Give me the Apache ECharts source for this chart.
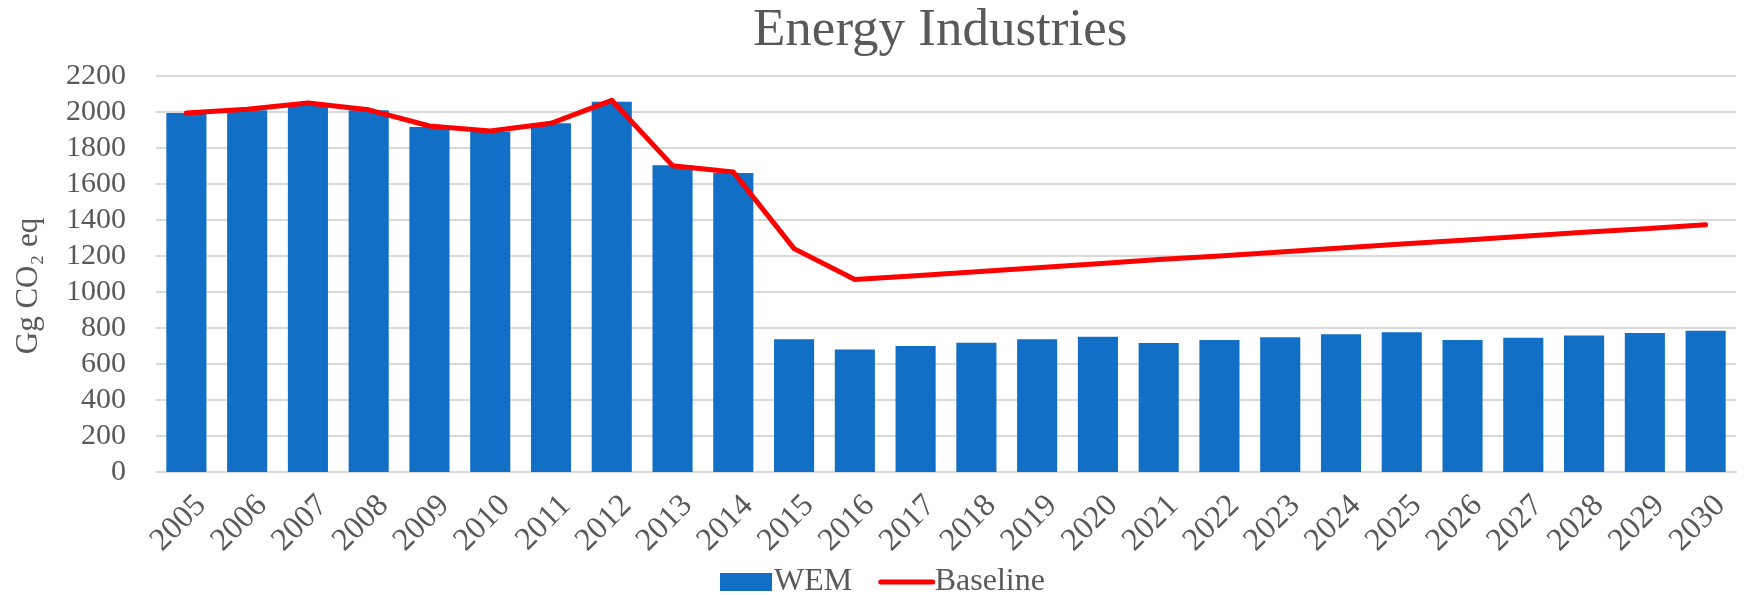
<!DOCTYPE html>
<html>
<head>
<meta charset="utf-8">
<script src="https://cdn.jsdelivr.net/npm/echarts@6/dist/echarts.min.js"></script>
<style>
html,body{margin:0;padding:0;background:#fff;}
#chart{width:1751px;height:595px;}
</style>
</head>
<body>
<div id="chart"></div>
<script>
const years = ['2005','2006','2007','2008','2009','2010','2011','2012','2013','2014','2015','2016','2017','2018','2019','2020','2021','2022','2023','2024','2025','2026','2027','2028','2029','2030'];
const wem = [1995,2010,2040,2010,1917,1891,1937,2057,1704,1661,737,681,700,718,737,752,717,733,748,765,776,733,746,759,772,785];
const baseline = [1995,2015,2050,2012,1922,1894,1937,2065,1702,1667,1241,1070,1090,1112,1135,1157,1180,1200,1222,1245,1266,1288,1310,1332,1352,1374];
const yTicks = {min:0, max:2200, interval:200};
const titleText = 'Energy Industries';
const yName = 'Gg CO₂ eq';

const FONT = '"Liberation Serif", "DejaVu Serif", serif';
const TXT = '#595959';
const chart = echarts.init(document.getElementById('chart'));
chart.setOption({
  animation:false,
  backgroundColor:'#fff',
  title:{text:titleText,left:748,top:0,textStyle:{fontFamily:FONT,fontSize:53,fontWeight:'normal',color:TXT}},
  grid:{left:156,right:15,top:76,bottom:123,containLabel:false},
  legend:{top:561,left:715,itemWidth:52,itemHeight:18,itemGap:26,
    textStyle:{fontFamily:FONT,fontSize:32,color:TXT,padding:[0,0,0,-3]},
    data:[
      {name:'WEM',icon:'rect'},
      {name:'Baseline',itemStyle:{color:'rgba(0,0,0,0)',borderWidth:0,opacity:0},lineStyle:{color:'#FF0000',width:5}}
    ]},
  xAxis:{type:'category',data:years,
    axisLine:{lineStyle:{color:'#D9D9D9',width:2}},
    axisTick:{show:false},
    axisLabel:{rotate:45,margin:14,verticalAlign:'top',lineHeight:42,fontFamily:FONT,fontSize:32,color:TXT,interval:0}},
  yAxis:{type:'value',min:yTicks.min,max:yTicks.max,interval:yTicks.interval,
    name:yName,nameLocation:'middle',nameGap:112,nameRotate:90,
    nameTextStyle:{fontFamily:FONT,fontSize:31,color:TXT,padding:[0,24,0,0]},
    axisLine:{show:false},axisTick:{show:false},
    axisLabel:{margin:30,fontFamily:FONT,fontSize:30,color:TXT,formatter:function(v){return String(v);}},
    splitLine:{lineStyle:{color:'#D9D9D9',width:2}}},
  series:[
    {name:'WEM',type:'bar',data:wem,barWidth:'66%',itemStyle:{color:'#1170C6'}},
    {name:'Baseline',type:'line',data:baseline,symbol:'none',showSymbol:false,
      lineStyle:{color:'#FF0000',width:5,join:'round',cap:'round'},itemStyle:{color:'#FF0000'}}
  ]
});
</script>
</body>
</html>
